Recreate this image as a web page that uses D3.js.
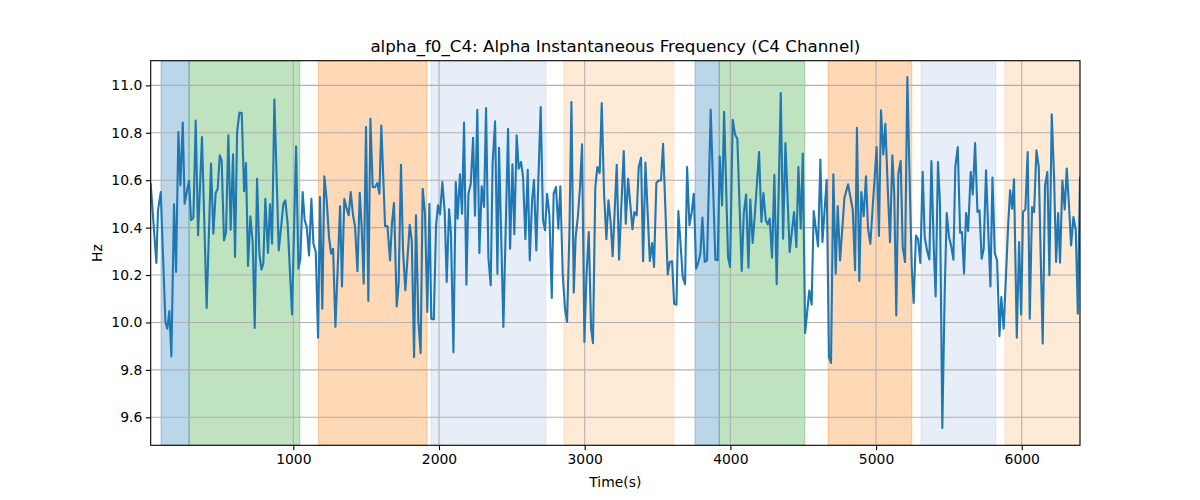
<!DOCTYPE html>
<html><head><meta charset="utf-8">
<script src="https://cdn.jsdelivr.net/npm/d3@7"></script>
<style>body{margin:0;background:#fff;} text{font-family:"DejaVu Sans",sans-serif;fill:#000;}</style>
</head><body><svg id="c" width="1200" height="500"></svg>
<script>
const times = [21,60,71,90,122,135,149,163,181,195,211,225,241,254,273,284,298,314,330,346,373,405,435,451,467,481,495,508,524,538,554,570,586,600,614,630,646,662,675,689,705,721,735,751,767,781,794,808,
826,840,854,870,900,932,945,961,991,1019,1035,1048,1064,1078,1092,1108,1124,1138,1154,1170,1183,1199,1213,1229,1245,1259,1273,1289,1321,1334,1350,1366,1380,1394,1410,1424,1440,1456,1469,1483,1499,1515,1529,1545,1561,1577,1591,1604,
1630,1646,1664,1677,1691,1710,1723,1739,1753,1769,1799,1813,1829,1842,1858,1874,1888,1904,1920,1934,1947,1964,1980,1993,2007,2023,2039,2053,2069,2082,2099,2115,2128,2144,2158,2172,2188,2202,2218,2234,2247,2263,2277,2293,2309,2323,2339,2355,2368,2385,2401,
2412,2442,2474,2488,2504,2517,2533,2547,2563,2577,2593,2609,2623,2639,2652,2668,2682,2698,2714,2728,2742,2758,2774,2787,2803,2819,2833,2849,2865,2879,2895,2909,2925,2938,2954,2968,2982,2998,3012,3028,3044,3057,3073,3087,3103,3117,3133,3149,3163,3179,3192,
3220,3236,3268,3282,3298,3328,3341,3357,3371,3387,3401,3417,3447,3463,3476,3492,3508,3524,3538,3570,3584,3600,3614,3630,3643,3673,3689,3703,3719,3735,3749,3765,3781,3794,3808,3824,3840,3865,3897,3913,3927,3943,3957,3984,3998,
4016,4032,4048,4078,4092,4108,4124,4137,4153,4167,4197,4213,4227,4243,4256,4270,4286,4302,4318,4346,4362,4378,4407,4437,4453,4467,4483,4497,4513,4542,4558,4572,4602,4618,4632,4661,4677,4691,4707,4723,4737,4753,4783,
4808,4840,4856,4869,4885,4899,4915,4931,4945,4961,4977,4991,5004,5020,5034,5050,5064,5080,5096,5112,5125,5139,5153,5169,5183,5199,5215,5229,5245,5258,5274,5288,5304,5320,5334,5350,5366,5380,5396,5409,5425,5439,5455,5471,5485,5501,5517,5531,5544,5561,5577,5590,
5604,5618,5632,5650,5664,5680,5696,5710,5725,5739,5755,5771,5785,5799,5815,5831,5847,5860,5876,5892,5906,5920,5934,5947,5966,5982,5996,6009,6025,6041,6055,6071,6085,6101,6117,6130,6144,6160,6176,6190,6206,6222,6236,6250,6263,6279,6295,6309,6325,6339,6355,6371,6385,6400];
const values = [10.583,10.251,10.473,10.550,10.002,9.974,10.048,9.857,10.498,10.213,10.803,10.578,10.843,10.501,10.564,10.597,10.431,10.442,10.852,10.367,10.782,10.061,10.670,10.374,10.546,10.564,10.705,10.684,10.346,10.381,10.789,10.391,10.709,10.276,10.803,10.885,10.883,10.554,10.672,10.238,10.448,10.339,9.977,10.606,10.290,10.223,10.248,10.522,
10.293,10.498,10.332,10.940,10.304,10.501,10.515,10.417,10.034,10.743,10.227,10.269,10.550,10.431,10.403,10.283,10.522,10.332,10.297,9.936,10.529,10.058,10.616,10.515,10.360,10.290,10.311,9.981,10.490,10.152,10.522,10.480,10.452,10.550,10.452,10.403,10.216,10.547,10.403,10.164,10.824,10.091,10.859,10.571,10.571,10.588,10.543,10.831,
10.407,10.407,10.262,10.417,10.504,10.068,10.164,10.665,10.304,10.136,10.412,10.346,9.854,10.452,10.009,9.871,10.564,10.459,10.044,10.501,10.016,10.013,10.410,10.494,10.456,10.592,10.466,10.171,10.477,10.374,9.874,10.592,10.438,10.625,10.459,10.843,10.159,10.543,10.585,10.779,10.450,10.897,10.293,10.574,10.487,10.904,10.273,10.157,10.670,10.848,10.206,
10.737,9.981,10.817,10.311,10.667,10.372,10.789,10.649,10.677,10.613,10.351,10.644,10.262,10.515,10.602,10.304,10.599,10.909,10.431,10.389,10.543,10.452,10.103,10.543,10.571,10.396,10.574,10.206,10.058,10.002,10.374,10.930,10.126,10.360,10.452,10.571,10.751,9.918,10.192,10.381,9.974,9.913,10.571,10.656,10.630,10.925,10.543,10.351,10.515,10.417,10.279,
10.665,10.265,10.723,10.417,10.606,10.393,10.466,10.452,10.656,10.695,10.258,10.674,10.259,10.335,10.234,10.588,10.599,10.599,10.754,10.203,10.255,10.258,10.079,10.075,10.470,10.192,10.161,10.656,10.410,10.466,10.543,10.227,10.255,10.290,10.442,10.255,10.262,10.897,10.265,10.262,10.701,10.494,10.888,10.276,10.234,
10.855,10.793,10.775,10.217,10.459,10.540,10.231,10.518,10.335,10.445,10.719,10.424,10.546,10.431,10.414,10.438,10.273,10.623,10.161,10.968,10.353,10.757,10.297,10.466,10.318,10.656,10.396,10.712,9.956,10.135,10.076,10.470,10.321,10.687,10.339,10.602,9.854,9.829,10.625,10.206,10.491,10.262,10.525,
10.583,10.476,10.220,10.821,10.175,10.550,10.448,10.616,10.396,10.332,10.487,10.613,10.740,10.365,10.895,10.709,10.838,10.571,10.339,10.705,10.543,10.030,10.627,10.681,10.318,10.255,11.035,10.642,10.234,10.082,10.367,10.353,10.251,10.635,10.360,10.304,10.266,10.681,10.318,10.110,10.677,10.501,9.555,10.121,10.462,10.360,10.318,10.265,10.656,10.740,10.379,10.381,
10.206,10.462,10.386,10.635,10.540,10.757,10.466,10.473,10.269,10.311,10.642,10.374,10.152,10.611,10.293,10.262,9.942,10.107,9.974,10.200,10.400,10.557,10.480,10.604,9.936,10.339,10.034,10.466,10.477,10.719,10.016,10.487,10.466,10.726,10.656,10.283,9.911,10.578,10.635,10.199,10.878,10.613,10.255,10.462,10.252,10.599,10.477,10.649,10.487,10.325,10.445,10.389,10.037,10.611];
const spanStarts = [92,284,1172,1945,2858,3758,3924,4671,5309,5885];
const spanEnds   = [284,1044,1916,2733,3611,3924,4511,5245,5822,6400];
const spanColors = ["#1f77b4","#2ca02c","#ff7f0e","#aec7e8","#ffbb78","#1f77b4","#2ca02c","#ff7f0e","#aec7e8","#ffbb78"];
const xTicks = [1000,2000,3000,4000,5000,6000];
const yTicks = [9.6,9.8,10.0,10.2,10.4,10.6,10.8,11.0];
const titleText = "alpha_f0_C4: Alpha Instantaneous Frequency (C4 Channel)";
const xLabel = "Time(s)";
const yLabel = "Hz";

const L = 150.7, R = 1080, T = 60.7, B = 445.3;
const svg = d3.select("#c");
const x = d3.scaleLinear().domain([21, 6400]).range([L, R]);
const y = d3.scaleLinear().domain([9.482, 11.104]).range([B, T]);

svg.append("defs").append("clipPath").attr("id","clip")
  .append("rect").attr("x",L).attr("y",T).attr("width",R-L).attr("height",B-T);

const plot = svg.append("g").attr("clip-path","url(#clip)");
const spans = d3.range(spanStarts.length).map(i => ({s: spanStarts[i], e: spanEnds[i], c: spanColors[i]}));
plot.selectAll("rect.span").data(spans).enter().append("rect")
  .attr("x", d => x(d.s)).attr("width", d => x(d.e) - x(d.s))
  .attr("y", T).attr("height", B - T)
  .attr("fill", d => d.c).attr("fill-opacity", 0.3)
  .attr("stroke", d => d.c).attr("stroke-opacity", 0.3).attr("stroke-width", 1.2);

// grid
plot.selectAll("line.gx").data(xTicks).enter().append("line")
  .attr("x1", d => x(d)).attr("x2", d => x(d)).attr("y1", T).attr("y2", B)
  .attr("stroke", "#b0b0b0").attr("stroke-width", 1.1);
plot.selectAll("line.gy").data(yTicks).enter().append("line")
  .attr("y1", d => y(d)).attr("y2", d => y(d)).attr("x1", L).attr("x2", R)
  .attr("stroke", "#b0b0b0").attr("stroke-width", 1.1);

const pts = times.map((t, i) => [t, values[i]]);
plot.append("path").datum(pts)
  .attr("d", d3.line().x(d => x(d[0])).y(d => y(d[1])))
  .attr("fill", "none").attr("stroke", "#1f77b4").attr("stroke-width", 2.1)
  .attr("stroke-linejoin", "round").attr("stroke-linecap", "square");

// axes
const xAxis = d3.axisBottom(x).tickValues(xTicks).tickFormat(d3.format("d")).tickSize(4.9).tickPadding(3.5);
const yAxis = d3.axisLeft(y).tickValues(yTicks).tickFormat(d3.format(".1f")).tickSize(4.9).tickPadding(3.5);
const gx = svg.append("g").attr("transform", `translate(0,${B})`).call(xAxis);
const gy = svg.append("g").attr("transform", `translate(${L},0)`).call(yAxis);
[gx, gy].forEach(g => {
  g.select(".domain").remove();
  g.selectAll(".tick line").attr("stroke", "#000").attr("stroke-width", 1.1);
  g.selectAll(".tick text").attr("font-size", "13.9px").attr("font-family", "DejaVu Sans").attr("fill", "#000");
});

svg.append("rect").attr("x", L).attr("y", T).attr("width", R - L).attr("height", B - T)
  .attr("fill", "none").attr("stroke", "#000").attr("stroke-width", 1.1);

svg.append("text").attr("x", (L + R) / 2).attr("y", 52.4).attr("text-anchor", "middle")
  .attr("font-size", "16.7px").text(titleText);
svg.append("text").attr("x", (L + R) / 2).attr("y", 486.5).attr("text-anchor", "middle")
  .attr("font-size", "13.9px").text(xLabel);
svg.append("text").attr("transform", `translate(102,${(T + B) / 2}) rotate(-90)`).attr("text-anchor", "middle")
  .attr("font-size", "13.9px").text(yLabel);
</script></body></html>
